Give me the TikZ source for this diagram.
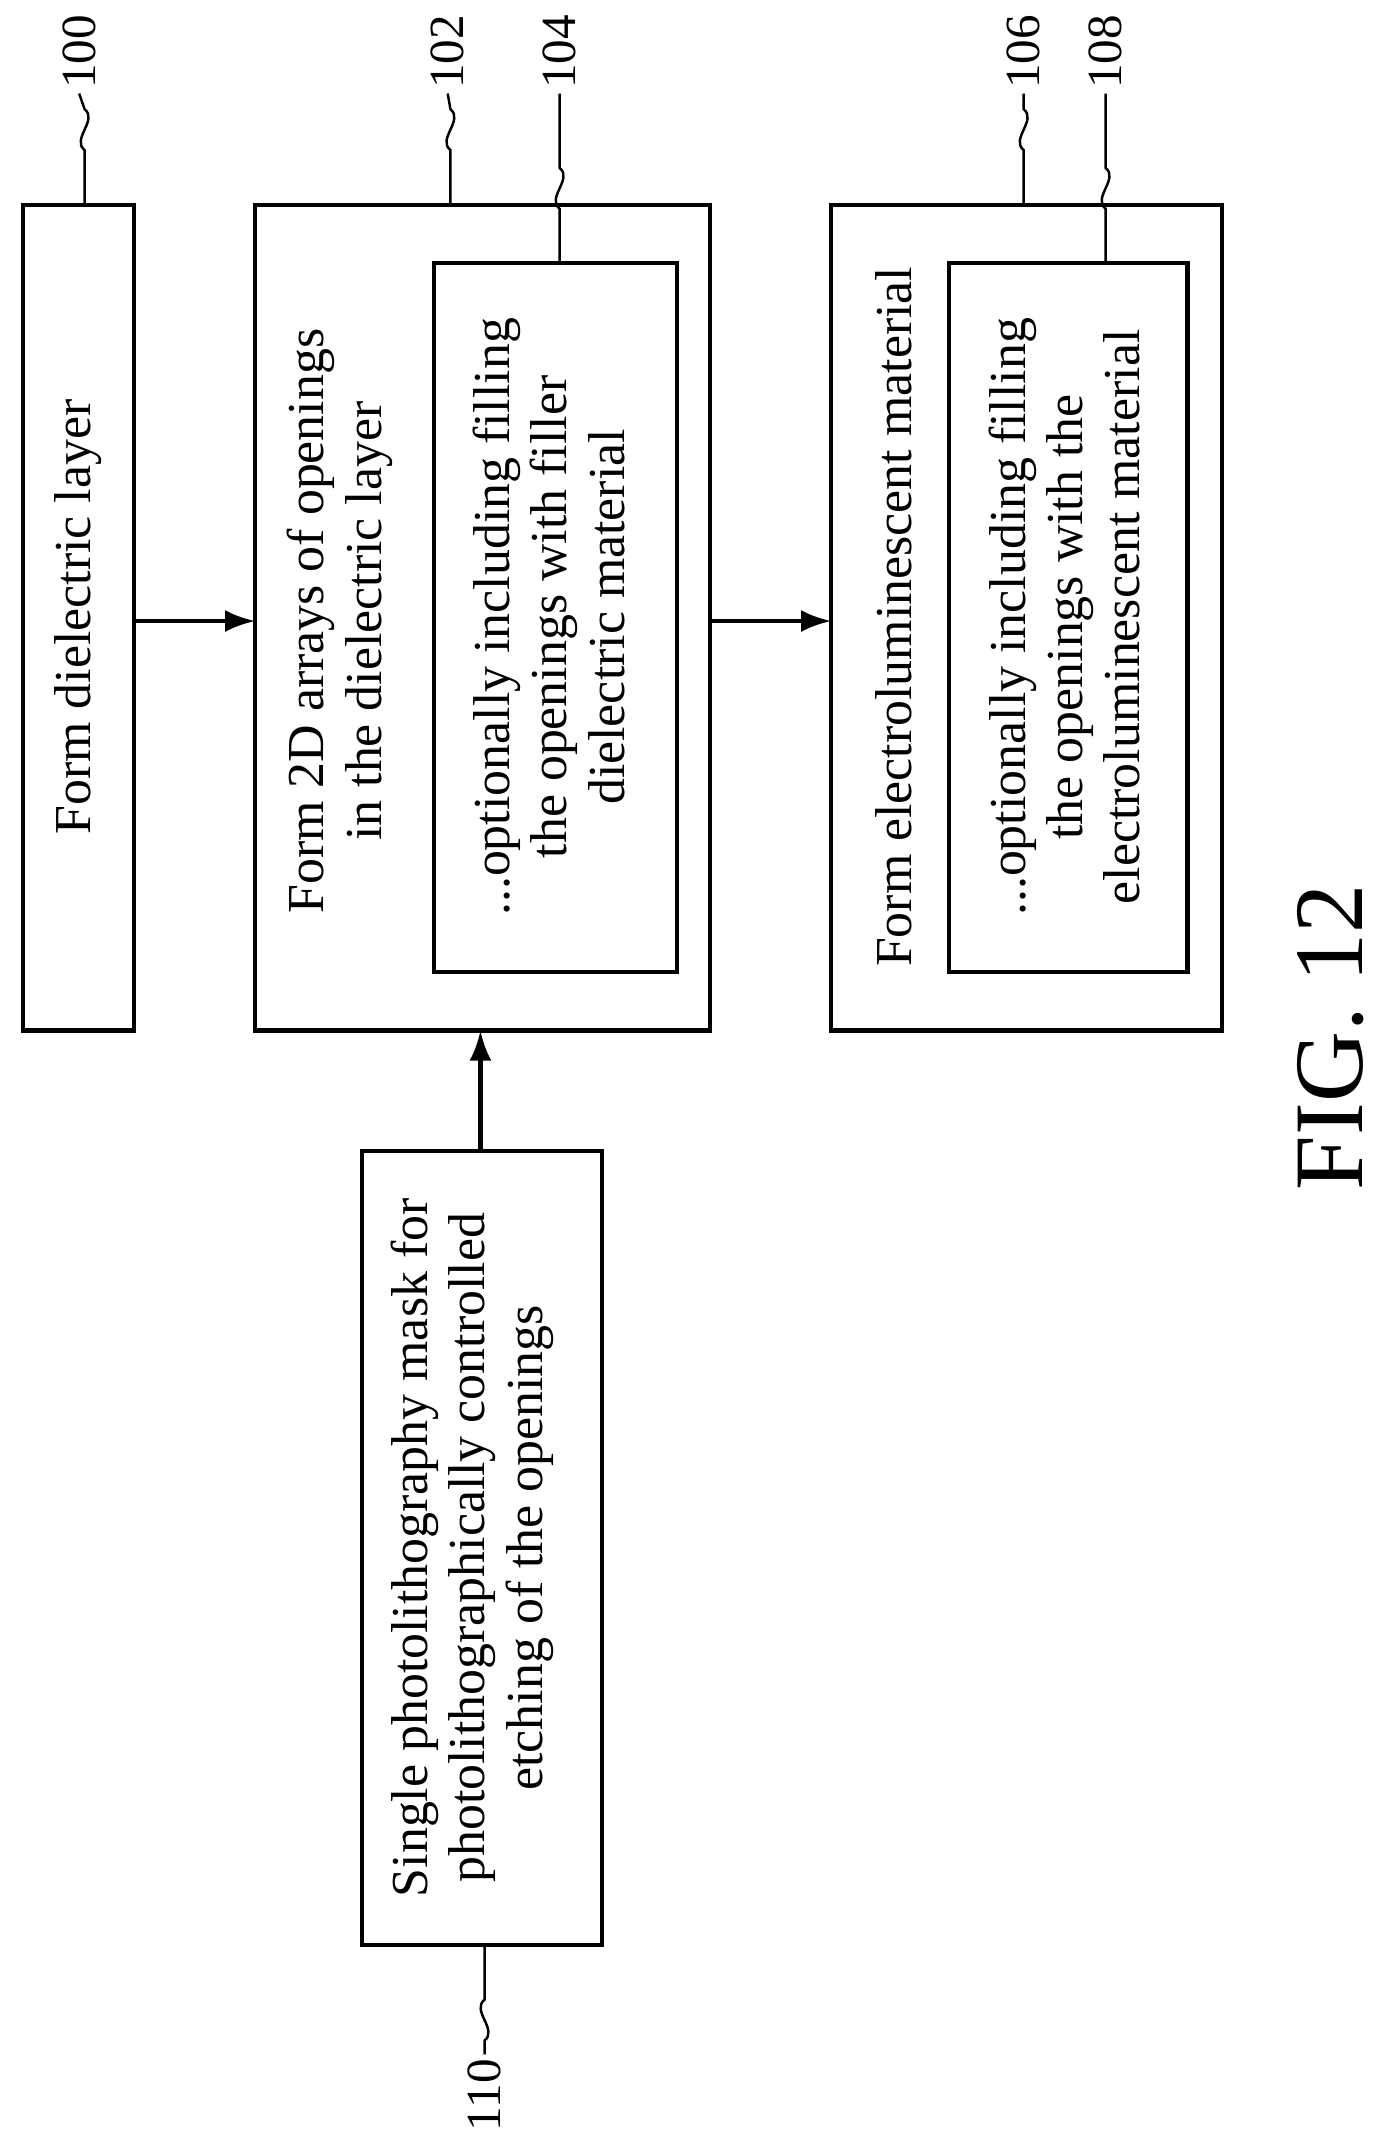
\documentclass[tikz,border=0pt]{standalone}
\usepackage{fontspec}
\setmainfont{Liberation Serif}
\usetikzlibrary{positioning,arrows.meta}
\tikzset{
  stepbox/.style={draw=black, line width=3pt, inner sep=0pt},
  txt/.style={rotate=90, align=center, font=\fontsize{38}{42}\selectfont},
  lbl/.style={rotate=90, font=\fontsize{36}{36}\selectfont},
  flow/.style={-{Latex[length=22pt,width=16pt]}, line width=3pt},
  lead/.style={line width=1.8pt}
}
\newcommand{\leader}[2]{% wavy leader from box edge to label
  \draw[lead] (#1) -- ++(0,-40) .. controls +(-10,-8) and +(10,8) .. ++(0,-30) -- (#2);}
\begin{document}
\begin{tikzpicture}[x=1pt,y=-1pt]
  \useasboundingbox (0,0) rectangle (1020,1573);
  % boxes
  \draw[stepbox] (17,150) rectangle (98,755);
  \draw[stepbox] (187,150) rectangle (520,755);
  \draw[stepbox] (318,193) rectangle (496,712);
  \draw[stepbox] (609,150) rectangle (895,755);
  \draw[stepbox] (695,193) rectangle (870,712);
  \draw[stepbox] (265,843) rectangle (441,1425);
  % anchors
  \coordinate (b100in) at (98,455);
  \coordinate (b102in) at (187,455);
  \coordinate (b102out) at (520,455);
  \coordinate (b106in) at (609,455);
  \coordinate (b102bot) at (352,755);
  \coordinate (b110top) at (352,843);
  % texts
  \node[txt] (t100) at (57,452) {Form dielectric layer};
  \node[txt] (t102) at (249,455) {Form 2D arrays of openings\\in the dielectric layer};
  \node[txt] (t104) at (402,452) {...optionally including filling\\the openings with filler\\dielectric material};
  \node[txt] (t106) at (655,452) {Form electroluminescent material};
  \node[txt] (t108) at (780,452) {...optionally including filling\\the openings with the\\electroluminescent material};
  \node[txt] (t110) at (346,1134) {Single photolithography mask for\\photolithographically controlled\\etching of the openings};
  % arrows
  \draw[flow] (b100in) -- (b102in);
  \draw[flow] (b102out) -- (b106in);
  \draw[flow] (b110top) -- (b102bot);
  % reference labels
  \node[lbl] (n100) at (58,38) {100};
  \node[lbl] (n102) at (328,38) {102};
  \node[lbl] (n104) at (410,38) {104};
  \node[lbl] (n106) at (750,38) {106};
  \node[lbl] (n108) at (810,38) {108};
  \node[lbl] (n110) at (355,1535) {110};
  \leader{62,150}{n100.west}
  \leader{330,150}{n102.west}
  \leader{410,193}{n104.west}
  \leader{750,150}{n106.west}
  \leader{810,193}{n108.west}
  \draw[lead] (355,1425) -- ++(0,40) .. controls +(-10,8) and +(10,-8) .. ++(0,30) -- (n110.east);
  % figure title
  \node[rotate=90, font=\fontsize{72}{72}\selectfont] (fig) at (975,760) {FIG. 12};
\end{tikzpicture}
\end{document}
